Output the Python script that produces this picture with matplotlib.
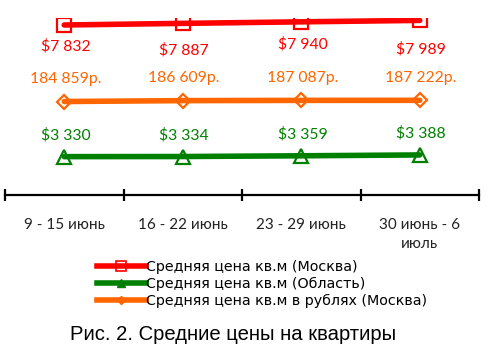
import matplotlib
matplotlib.use('Agg')
import matplotlib.pyplot as plt
from matplotlib.lines import Line2D

# data
weeks = ['9 - 15 июнь', '16 - 22 июнь', '23 - 29 июнь', '30 июнь - 6\nиюль']
moscow_usd = [7832, 7887, 7940, 7989]
oblast_usd = [3330, 3334, 3359, 3388]
moscow_rub = [184859, 186609, 187087, 187222]

series_names = ['Средняя цена кв.м (Москва)',
                'Средняя цена кв.м (Область)',
                'Средняя цена кв.м в рублях (Москва)']
caption = 'Рис. 2. Средние цены на квартиры'

RED = '#ff0000'
GREEN = '#008000'
ORANGE = '#ff6600'
lab_font = 'Lato'

W, H = 488, 352
fig = plt.figure(figsize=(W / 100, H / 100), dpi=100)
ax = fig.add_axes([5 / W, (H - 195) / H, 474 / W, 177 / H])
ax2 = ax.twinx()

x = list(range(len(weeks)))

# markers under the line, line drawn on top
ax.plot(x, moscow_usd, ls='none', marker='s', ms=9.5, mfc='white', mec=RED, mew=1.6, zorder=2)
ax.plot(x, moscow_usd, color=RED, lw=4, solid_capstyle='round', zorder=3)
ax.plot(x, oblast_usd, ls='none', marker='^', ms=10, mfc='white', mec=GREEN, mew=1.6, zorder=2)
ax.plot(x, oblast_usd, color=GREEN, lw=4, solid_capstyle='round', zorder=3)
ax2.plot(x, moscow_rub, ls='none', marker='D', ms=7, mfc='white', mec=ORANGE, mew=1.6, zorder=2)
ax2.plot(x, moscow_rub, color=ORANGE, lw=4, solid_capstyle='round', zorder=3)

ax.set_ylim(2018, 8071)
ax2.set_ylim(0, 350000)
ax.set_xlim(-0.5, len(weeks) - 0.5)


def fmt(v):
    return f'{v:,}'.replace(',', ' ')


red_off = [-15, -19, -16.5, -21]
for i, v in enumerate(moscow_usd):
    ax.annotate('$' + fmt(v), (i, v), xytext=(1, red_off[i]), textcoords='offset points',
                ha='center', va='center', color=RED, fontsize=11.3, family=lab_font)
for i, v in enumerate(oblast_usd):
    ax.annotate('$' + fmt(v), (i, v), xytext=(1, 15.5), textcoords='offset points',
                ha='center', va='center', color=GREEN, fontsize=11.3, family=lab_font)
for i, v in enumerate(moscow_rub):
    ax2.annotate(fmt(v) + 'р.', (i, v), xytext=(1, 16), textcoords='offset points',
                 ha='center', va='center', color=ORANGE, fontsize=11.3, family=lab_font)

# axis
for a in (ax, ax2):
    for s in ('top', 'left', 'right'):
        a.spines[s].set_visible(False)
    a.set_yticks([])
ax2.spines['bottom'].set_visible(False)
ax.spines['bottom'].set_linewidth(1.6)
ax.set_xticks([i - 0.5 for i in range(len(weeks) + 1)])
ax.set_xticklabels([])
ax.tick_params(axis='x', which='major', direction='inout', length=8, width=1.6, color='black')
ax.set_xticks(x, minor=True)
ax.set_xticklabels(weeks, minor=True, fontsize=11, family=lab_font, color='#222222')
ax.tick_params(axis='x', which='minor', length=0, pad=16.5)
for t in ax.get_xticklabels(minor=True):
    t.set_linespacing(1.45)

handles = [
    Line2D([], [], color=RED, lw=4, marker='s', ms=7, mfc='none', mec=RED, mew=1.2),
    Line2D([], [], color=GREEN, lw=4, marker='^', ms=6, mfc=GREEN, mec=GREEN),
    Line2D([], [], color=ORANGE, lw=4, marker='D', ms=4, mfc=ORANGE, mec=ORANGE),
]
fig.legend(handles, series_names, loc='upper left', bbox_to_anchor=(97 / W, 1 - 260 / H),
           frameon=False, handlelength=3.4, handletextpad=0.0, borderpad=0, borderaxespad=0,
           labelspacing=0.22, prop={'family': 'DejaVu Sans', 'size': 10.3})

fig.text(233 / W, 1 - 335 / H, caption, ha='center', va='center',
         family='Liberation Sans', fontsize=14.6)

fig.savefig('out.png', dpi=100)
